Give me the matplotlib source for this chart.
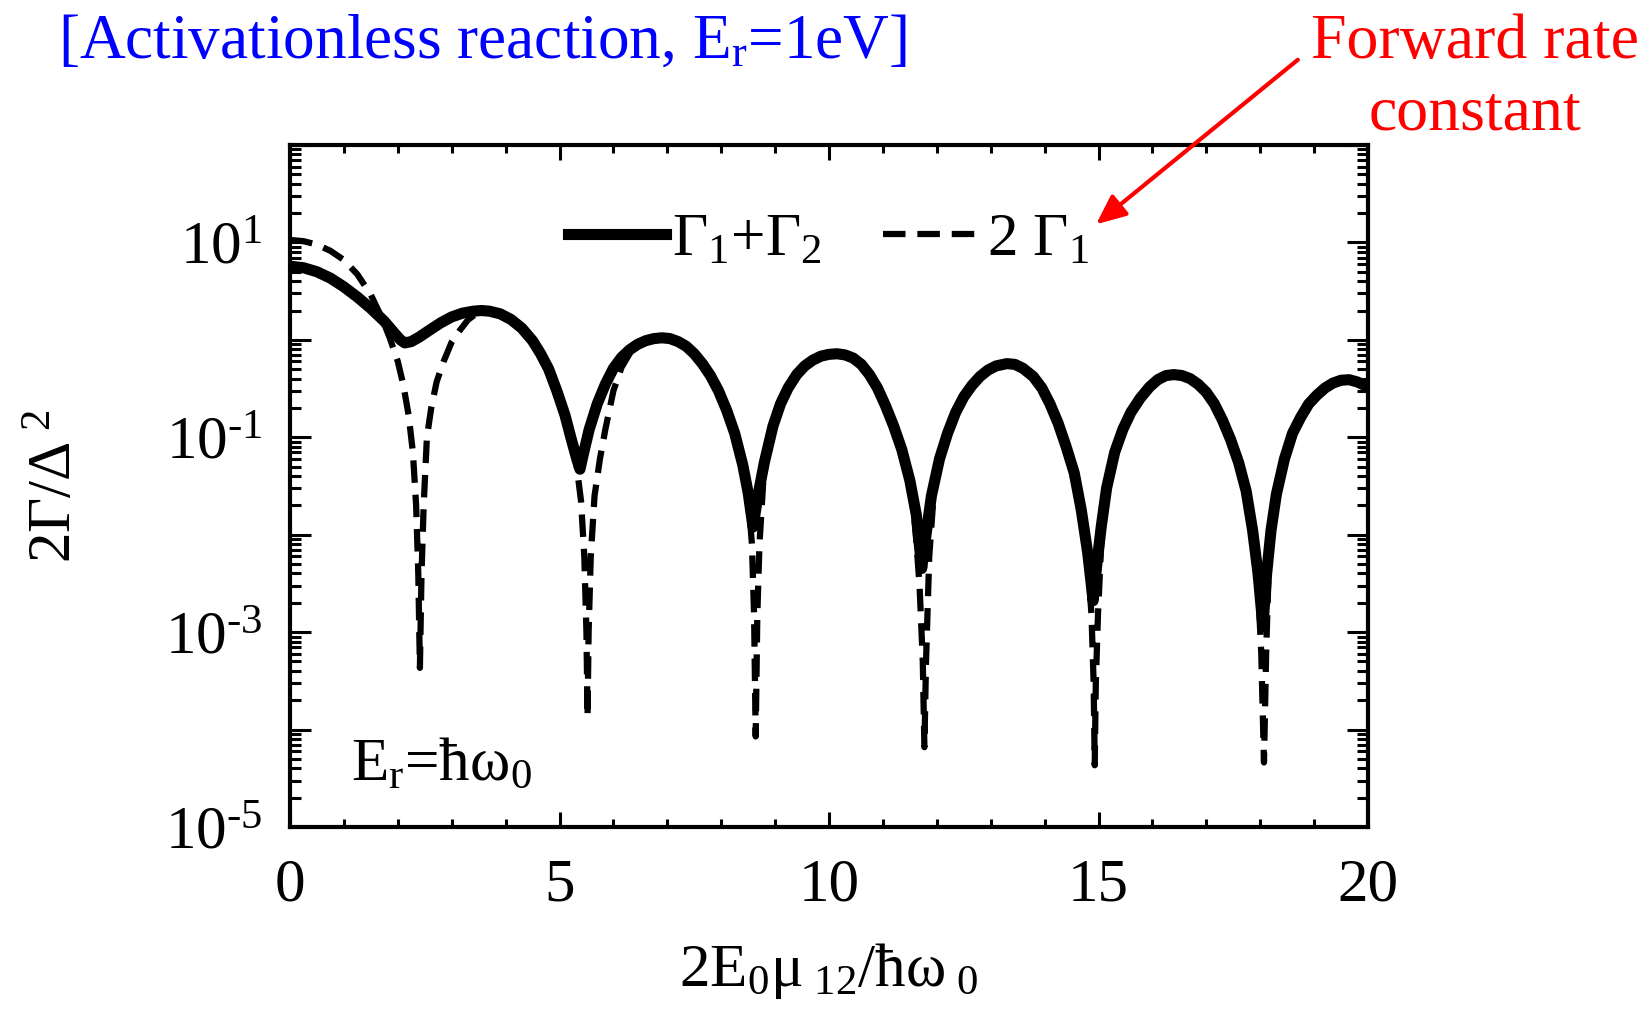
import math
import matplotlib
matplotlib.use("Agg")
import matplotlib.pyplot as plt
from matplotlib.ticker import FixedLocator, LogLocator, NullFormatter, FuncFormatter, MultipleLocator
from matplotlib.patches import FancyArrowPatch
from matplotlib.lines import Line2D

plt.rcParams['font.family'] = ['Liberation Serif', 'DejaVu Serif']
plt.rcParams['mathtext.fontset'] = 'custom'
plt.rcParams['mathtext.rm'] = 'Liberation Serif'
plt.rcParams['mathtext.it'] = 'Liberation Serif:italic'
plt.rcParams['mathtext.bf'] = 'Liberation Serif:bold'

# total rate Gamma_1 + Gamma_2 versus driving strength
x_sum = [0.0, 0.25, 0.5, 0.75, 1.0, 1.25, 1.5, 1.75, 1.95, 2.05, 2.13, 2.25, 2.4, 2.6, 2.8,
         3.0, 3.2, 3.4, 3.55, 3.7, 3.9, 4.1, 4.3, 4.5, 4.65, 4.8, 4.95, 5.1, 5.22, 5.32, 5.38,
         5.45, 5.55, 5.7, 5.85, 6.0, 6.15, 6.3, 6.45, 6.6, 6.75, 6.9, 7.05, 7.2, 7.35, 7.5,
         7.65, 7.8, 7.95, 8.1, 8.25, 8.4, 8.5, 8.59,
         8.68, 8.8, 8.96, 9.1, 9.24, 9.4, 9.55, 9.7, 9.85, 10.0, 10.15, 10.3, 10.45, 10.6,
         10.75, 10.9, 11.05, 11.2, 11.35, 11.5, 11.62, 11.72,
         11.8, 11.9, 12.05, 12.2, 12.35, 12.5, 12.65, 12.8, 12.95, 13.1, 13.3, 13.45, 13.6,
         13.79, 13.95, 14.1, 14.25, 14.4, 14.55, 14.68, 14.8, 14.9,
         14.97, 15.05, 15.15, 15.3, 15.45, 15.6, 15.77, 15.95, 16.1, 16.25, 16.4, 16.55, 16.7,
         16.85, 17.0, 17.15, 17.3, 17.45, 17.6, 17.74, 17.86, 17.96, 18.05,
         18.12, 18.2, 18.3, 18.45, 18.6, 18.75, 18.9, 19.05, 19.2, 19.35, 19.5, 19.65, 19.8, 20.0]
y_sum = [5.7, 5.5, 5.0, 4.3, 3.5, 2.75, 2.1, 1.55, 1.15, 1.0, 0.93, 0.96, 1.07, 1.27, 1.5,
         1.72, 1.88, 1.97, 2.0, 1.97, 1.85, 1.62, 1.32, 0.98, 0.72, 0.5, 0.3, 0.17, 0.095, 0.06, 0.047,
         0.07, 0.12, 0.22, 0.35, 0.51, 0.66, 0.79, 0.9, 0.98, 1.03, 1.05, 1.03, 0.96, 0.86, 0.72,
         0.57, 0.43, 0.3, 0.19, 0.11, 0.052, 0.027, 0.012,
         0.025, 0.055, 0.13, 0.22, 0.32, 0.44, 0.54, 0.62, 0.68, 0.71, 0.72, 0.70, 0.65, 0.56,
         0.44, 0.32, 0.21, 0.13, 0.075, 0.036, 0.016, 0.0045,
         0.01, 0.025, 0.06, 0.11, 0.18, 0.26, 0.34, 0.42, 0.49, 0.54, 0.57, 0.56, 0.51,
         0.42, 0.32, 0.22, 0.14, 0.08, 0.043, 0.018, 0.0065, 0.0021,
         0.005, 0.012, 0.03, 0.07, 0.12, 0.18, 0.25, 0.33, 0.39, 0.43, 0.44, 0.43, 0.40,
         0.35, 0.29, 0.22, 0.15, 0.095, 0.055, 0.028, 0.011, 0.004, 0.00114,
         0.004, 0.011, 0.026, 0.06, 0.11, 0.16, 0.22, 0.27, 0.32, 0.36, 0.385, 0.39, 0.37, 0.33]

# forward rate 2*Gamma_1
x_fwd = [0.0, 0.25, 0.5, 0.75, 1.0, 1.25, 1.5, 1.7, 1.85, 2.0, 2.1, 2.2, 2.28, 2.34, 2.38, 2.41,
         2.44, 2.48, 2.54, 2.62, 2.72, 2.85, 3.0, 3.15, 3.3, 3.45, 3.55,
         3.7, 3.9, 4.1, 4.3, 4.5, 4.65, 4.8, 4.95, 5.1, 5.22, 5.32, 5.4, 5.46, 5.5, 5.52,
         5.54, 5.58, 5.65, 5.75, 5.85, 6.0, 6.15, 6.3, 6.45, 6.6, 6.75, 6.9, 7.05, 7.2, 7.35,
         7.5, 7.65, 7.8, 7.95, 8.1, 8.25, 8.4, 8.5, 8.57, 8.61, 8.64,
         8.67, 8.71, 8.78, 8.88, 8.96, 9.1, 9.24, 9.4, 9.55, 9.7, 9.85, 10.0, 10.15, 10.3, 10.45,
         10.6, 10.75, 10.9, 11.05, 11.2, 11.35, 11.5, 11.6, 11.68, 11.74, 11.77,
         11.8, 11.86, 11.95, 12.05, 12.2, 12.35, 12.5, 12.65, 12.8, 12.95, 13.1, 13.3, 13.45, 13.6,
         13.79, 13.95, 14.1, 14.25, 14.4, 14.55, 14.68, 14.8, 14.87, 14.91, 14.93,
         14.95, 14.99, 15.05, 15.15, 15.3, 15.45, 15.6, 15.77, 15.95, 16.1, 16.25, 16.4, 16.55, 16.7,
         16.85, 17.0, 17.15, 17.3, 17.45, 17.6, 17.74, 17.86, 17.96, 18.02, 18.07,
         18.11, 18.16, 18.2, 18.3, 18.45, 18.6, 18.75, 18.9, 19.05, 19.2, 19.35, 19.5, 19.65, 19.8, 20.0]
y_fwd = [10.6, 10.3, 9.5, 8.2, 6.6, 4.7, 2.9, 1.7, 1.05, 0.6, 0.35, 0.17, 0.07, 0.02, 0.004, 0.00043,
         0.004, 0.02, 0.1, 0.2, 0.37, 0.6, 0.95, 1.25, 1.6, 1.85, 1.97,
         1.97, 1.85, 1.62, 1.32, 0.98, 0.72, 0.5, 0.3, 0.17, 0.095, 0.05, 0.022, 0.006, 0.001, 0.000135,
         0.001, 0.006, 0.025, 0.06, 0.12, 0.3, 0.52, 0.72, 0.88, 0.98, 1.03, 1.05, 1.03, 0.96, 0.86,
         0.72, 0.57, 0.43, 0.3, 0.19, 0.11, 0.052, 0.025, 0.008, 0.0015, 0.000085,
         0.0015, 0.008, 0.035, 0.085, 0.13, 0.22, 0.32, 0.44, 0.54, 0.62, 0.68, 0.71, 0.72, 0.70, 0.65,
         0.56, 0.44, 0.32, 0.21, 0.13, 0.075, 0.036, 0.012, 0.003, 0.0005, 0.000066,
         0.0005, 0.006, 0.03, 0.06, 0.11, 0.18, 0.26, 0.34, 0.42, 0.49, 0.54, 0.57, 0.56, 0.51,
         0.42, 0.32, 0.22, 0.14, 0.08, 0.043, 0.018, 0.0055, 0.0015, 0.0003, 0.000043,
         0.0003, 0.0015, 0.008, 0.03, 0.07, 0.12, 0.18, 0.25, 0.33, 0.39, 0.43, 0.44, 0.43, 0.40,
         0.35, 0.29, 0.22, 0.15, 0.095, 0.055, 0.028, 0.011, 0.003, 0.0006, 0.000046,
         0.0006, 0.005, 0.011, 0.026, 0.06, 0.11, 0.16, 0.22, 0.27, 0.32, 0.36, 0.385, 0.39, 0.37, 0.33]

x_ticks = [0, 5, 10, 15, 20]
y_decades = [-5, -4, -3, -2, -1, 0, 1, 2]
y_labelled = [-5, -3, -1, 1]

W, H = 1650, 1018
fig = plt.figure(figsize=(W / 100, H / 100), dpi=100)
ax = fig.add_axes([290 / W, 1 - 827 / H, (1368 - 290) / W, (827 - 145) / H])

ax.plot(x_fwd, y_fwd, color='black', lw=4.5, dashes=(3.6, 1.9), dash_capstyle='butt')
ax.plot(x_sum, y_sum, color='black', lw=8, solid_joinstyle='round', solid_capstyle='round')

ax.set_yscale('log')
ax.set_xlim(0, 20)
ax.set_ylim(1e-5, 1e2)

ax.xaxis.set_major_locator(FixedLocator(x_ticks))
ax.xaxis.set_minor_locator(MultipleLocator(1))
ax.yaxis.set_major_locator(FixedLocator([10.0 ** d for d in y_decades]))
ax.yaxis.set_minor_locator(LogLocator(base=10, subs=range(2, 10), numticks=100))
ax.yaxis.set_minor_formatter(NullFormatter())


def ylab(v, pos):
    e = int(round(math.log10(v)))
    if e not in y_labelled:
        return ""
    return f"10$^{{\\text{{{e}}}}}$"


ax.yaxis.set_major_formatter(FuncFormatter(ylab))
ax.tick_params(which='both', direction='in', top=True, right=True, width=2.2, labelsize=44)
ax.tick_params(axis='y', which='major', length=15)
ax.tick_params(axis='y', which='minor', length=8)
ax.tick_params(axis='x', which='major', length=11)
ax.tick_params(axis='x', which='minor', length=6)
ax.tick_params(axis='x', pad=22)
ax.tick_params(axis='y', pad=20)
for s in ax.spines.values():
    s.set_linewidth(3)

ax.set_xlabel("2E$_0$μ$_{\\ 12}$/ħω$_{\\ 0}$", fontsize=44, labelpad=20)
ax.set_ylabel("2Γ/Δ$^{\\ 2}$", fontsize=44, labelpad=58)

h_sum = Line2D([], [], color='black', lw=8)
h_fwd = Line2D([], [], color='black', lw=4.5, dashes=(3.6, 1.9))
ax.legend(handles=[h_sum, h_fwd], labels=['Γ$_1$+Γ$_2$', '2 Γ$_1$'], ncol=2,
          loc='center', bbox_to_anchor=(0.5, 0.86), frameon=False, fontsize=44,
          handlelength=1.6, handletextpad=0.1, columnspacing=1.0)

ax.text(0.057, 0.07, "E$_\\mathrm{r}$=ħω$_0$", transform=ax.transAxes, fontsize=44,
        ha='left', va='baseline')

fig.text(58 / W, 1 - 14 / H, "[Activationless reaction, E$_\\mathrm{r}$=1eV]", color='blue',
         fontsize=45.5, ha='left', va='top')
fig.text(1475 / W, 1 - 14 / H, "Forward rate\nconstant", color='red', fontsize=46,
         ha='center', va='top', linespacing=1.3)

arrow = FancyArrowPatch((1300 / W, 1 - 58 / H), (1094 / W, 1 - 226 / H),
                        transform=fig.transFigure, arrowstyle='-|>,head_length=0.9,head_width=0.4',
                        mutation_scale=20, color='red', lw=3)
fig.patches.append(arrow)

fig.savefig('out.png', dpi=100, facecolor='white')
